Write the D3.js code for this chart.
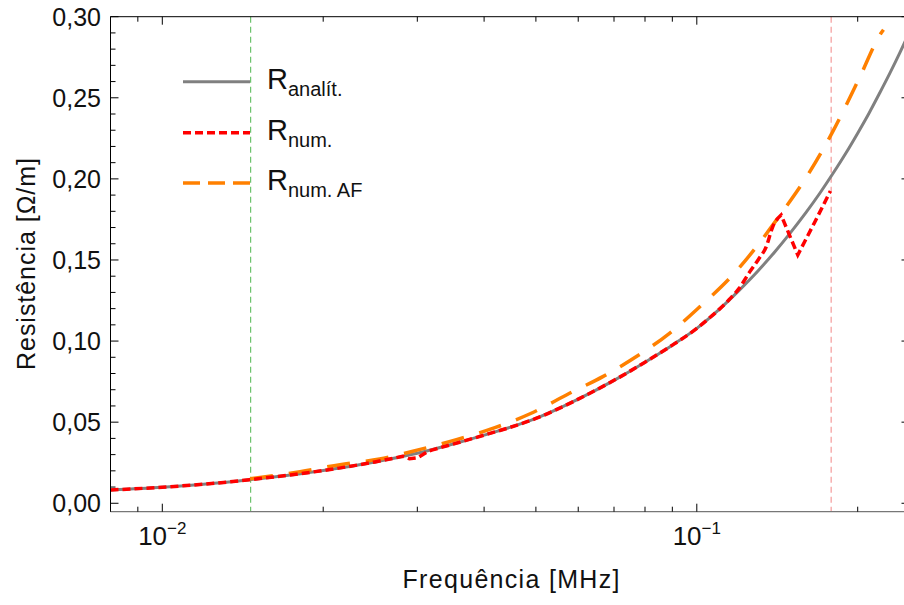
<!DOCTYPE html>
<html><head><meta charset="utf-8">
<script src="https://cdn.jsdelivr.net/npm/d3@7"></script>
<style>body{margin:0;background:#fff}svg{display:block}text{font-family:"Liberation Sans",Arial,sans-serif;fill:#111}</style>
</head><body><svg id="c" width="904" height="605"></svg>
<script>
// ---- data (frequency in MHz, resistance in Ohm/m) ----
const fAnalit = [0.008,0.01,0.0125,0.0146,0.0175,0.02,0.025,0.03,0.035,0.04,0.05,0.06,0.07,0.08,0.09,0.1,0.11,0.12,0.13,0.14,0.15,0.16,0.17,0.18,0.19,0.2,0.21,0.22,0.23,0.24,0.2507];
const rAnalit = [0.0082,0.0099,0.0123,0.0146,0.0176,0.0202,0.0255,0.0308,0.0365,0.042,0.0523,0.0642,0.0758,0.087,0.0975,0.1078,0.1194,0.1313,0.1431,0.1551,0.1672,0.1792,0.1913,0.2036,0.2158,0.2282,0.2405,0.2531,0.2655,0.278,0.2914];
const fNum = [0.008,0.01,0.0125,0.0146,0.0175,0.02,0.025,0.0282,0.029,0.03,0.0315,0.035,0.04,0.05,0.06,0.07,0.08,0.09,0.1,0.105,0.11,0.115,0.12,0.1255,0.1305,0.1348,0.1387,0.1438,0.1545,0.166,0.1778];
const rNum = [0.0082,0.0099,0.0123,0.0146,0.0176,0.0202,0.0255,0.029,0.0274,0.028,0.0322,0.0365,0.042,0.0523,0.0642,0.0758,0.087,0.0975,0.1078,0.1136,0.1194,0.1256,0.1325,0.1425,0.1505,0.158,0.1705,0.1777,0.1531,0.173,0.1925];
const fNumAF = [0.0146,0.0181,0.0215,0.0255,0.0301,0.0355,0.0419,0.049,0.0578,0.0667,0.0771,0.0889,0.1013,0.1168,0.1448,0.1624,0.1796,0.2013,0.2211,0.2235];
const rNumAF = [0.0151,0.0195,0.0238,0.0273,0.0329,0.0392,0.0466,0.0555,0.0678,0.0781,0.0905,0.1048,0.1212,0.1408,0.18,0.204,0.2291,0.262,0.2898,0.292];
const vLines = [0.01463, 0.1784];
const yTicks = [0,0.05,0.10,0.15,0.20,0.25,0.30];
const yTickLabels = ["0,00","0,05","0,10","0,15","0,20","0,25","0,30"];
const xMajor = [0.01, 0.1];
const xMajorExp = ["\u22122","\u22121"];
const legendLabels = ["anal\u00edt.","num.","num. AF"];

const svg = d3.select("#c");
const L=110.5, R=909.5, T=16.7, B=511.7;
const x = d3.scaleLog().domain([0.008,0.25]).range([L,R]);
const y = d3.scaleLinear().domain([-0.0052,0.30]).range([B,T]);

// vertical reference lines
svg.append("line").attr("x1",x(vLines[0])).attr("x2",x(vLines[0])).attr("y1",T).attr("y2",B)
  .attr("stroke","#6cc36c").attr("stroke-width",1.2).attr("stroke-dasharray","6,4");
svg.append("line").attr("x1",x(vLines[1])).attr("x2",x(vLines[1])).attr("y1",T).attr("y2",B)
  .attr("stroke","#f5a3a3").attr("stroke-width",1.3).attr("stroke-dasharray","6,4");

svg.append("defs").append("clipPath").attr("id","pc").append("rect")
  .attr("x",L).attr("y",T).attr("width",R-L).attr("height",B-T);
const g = svg.append("g").attr("clip-path","url(#pc)");
const mk = (fs,rs)=>fs.map((f,i)=>[f,rs[i]]);
const line = d3.line().x(d=>x(d[0])).y(d=>y(d[1])).curve(d3.curveMonotoneX);

g.append("path").attr("d",line(mk(fAnalit,rAnalit))).attr("fill","none").attr("stroke","#808080").attr("stroke-width",3);
g.append("path").attr("d",line(mk(fNumAF,rNumAF))).attr("fill","none").attr("stroke","#ff8000").attr("stroke-width",3.5).attr("stroke-dasharray","23,16");

// numeric curve: smooth pieces joined at sharp corners (glitches)
const numPts = mk(fNum,rNum);
const sharp = new Set([0.0282,0.029,0.03,0.0315,0.1438,0.1545]);
const pieces = []; let cur = [];
numPts.forEach(p=>{ cur.push(p); if(sharp.has(p[0])){ pieces.push(cur); cur=[p]; } });
if(cur.length>1) pieces.push(cur);
const cr = d3.line().x(d=>x(d[0])).y(d=>y(d[1])).curve(d3.curveMonotoneX);
const dNum = pieces.map((pc,i)=>{ const s = cr(pc); return i===0? s : s.replace(/^M[^CLQ]*/, ""); }).join("");
g.append("path").attr("d",dNum).attr("fill","none").attr("stroke","#ff0000").attr("stroke-width",3.5).attr("stroke-dasharray","8,4").attr("stroke-linejoin","miter");

// frame
svg.append("line").attr("x1",L).attr("x2",R).attr("y1",T).attr("y2",T).attr("stroke","#000").attr("stroke-width",1);
svg.append("line").attr("x1",L).attr("x2",L).attr("y1",T).attr("y2",B).attr("stroke","#000").attr("stroke-width",1);
svg.append("line").attr("x1",R).attr("x2",R).attr("y1",T).attr("y2",B).attr("stroke","#000").attr("stroke-width",1);
svg.append("line").attr("x1",L).attr("x2",R).attr("y1",B).attr("y2",B).attr("stroke","#777").attr("stroke-width",1.2);

// y ticks
const yMinor = d3.range(0,0.301,0.01);
yMinor.forEach(v=>{
  const major = Math.abs(Math.round(v*20)-v*20)<1e-6;
  const len = major?8:5;
  svg.append("line").attr("x1",L).attr("x2",L+len).attr("y1",y(v)).attr("y2",y(v)).attr("stroke","#000").attr("stroke-width",1);
  svg.append("line").attr("x1",R).attr("x2",R-len).attr("y1",y(v)).attr("y2",y(v)).attr("stroke","#000").attr("stroke-width",1);
});
yTicks.forEach((v,i)=>{
  svg.append("text").attr("x",101).attr("y",y(v)+9).attr("text-anchor","end").attr("font-size",25).text(yTickLabels[i]);
});
// x ticks
const xt = x.ticks();
xt.forEach(f=>{
  const major = xMajor.some(m=>Math.abs(m-f)/m<1e-6);
  const len = major?8:5;
  svg.append("line").attr("x1",x(f)).attr("x2",x(f)).attr("y1",B).attr("y2",B-len).attr("stroke","#000").attr("stroke-width",1);
  svg.append("line").attr("x1",x(f)).attr("x2",x(f)).attr("y1",T).attr("y2",T+len).attr("stroke","#000").attr("stroke-width",1);
});
xMajor.forEach((f,i)=>{
  const t = svg.append("text").attr("x",x(f)).attr("y",545).attr("text-anchor","middle").attr("font-size",26);
  t.append("tspan").text("10");
  t.append("tspan").attr("font-size",17).attr("dy",-11).text(xMajorExp[i]);
});

// axis titles
svg.append("text").attr("x",511).attr("y",588).attr("text-anchor","middle").attr("font-size",25)
  .attr("textLength",217).attr("lengthAdjust","spacing").text("Frequ\u00eancia [MHz]");
svg.append("text").attr("transform","translate(35,264) rotate(-90)").attr("text-anchor","middle").attr("font-size",25)
  .attr("textLength",212).attr("lengthAdjust","spacing").text("Resist\u00eancia [\u03a9/m]");

// legend
const legY = [81.7,132.7,183];
const legStyle = [{c:"#808080",w:3,d:null},{c:"#ff0000",w:3.5,d:"8,4"},{c:"#ff8000",w:3.5,d:"17,8"}];
legY.forEach((ly,i)=>{
  const s = legStyle[i];
  const l = svg.append("line").attr("x1",183).attr("x2",250).attr("y1",ly).attr("y2",ly).attr("stroke",s.c).attr("stroke-width",s.w);
  if(s.d) l.attr("stroke-dasharray",s.d);
  const t = svg.append("text").attr("x",267).attr("y",ly+7).attr("font-size",29);
  t.append("tspan").text("R");
  t.append("tspan").attr("font-size",20).attr("dy",7).text(legendLabels[i]);
});
</script></body></html>
